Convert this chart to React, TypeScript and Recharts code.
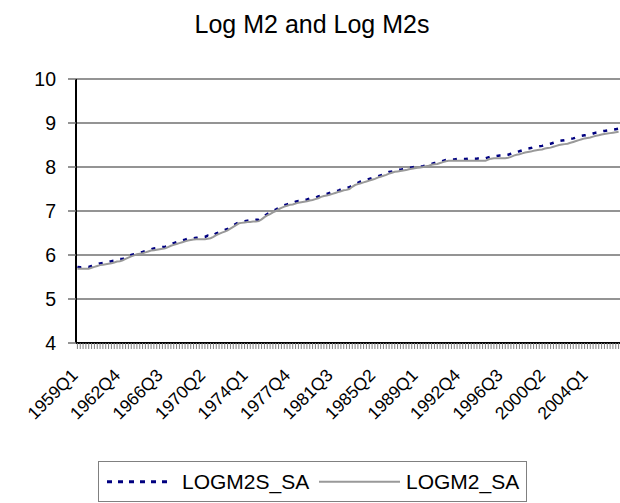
import React from 'react';
import { LineChart, Line, XAxis, YAxis, CartesianGrid } from 'recharts';

const chartTitle = 'Log M2 and Log M2s';
const startYear = 1959;
const quarterCount = 192;
const categories: string[] = [];
for (let i = 0; i < quarterCount; i++) {
  categories.push(`${startYear + Math.floor(i / 4)}Q${(i % 4) + 1}`);
}
const tickLabels = ['1959Q1', '1962Q4', '1966Q3', '1970Q2', '1974Q1', '1977Q4', '1981Q3', '1985Q2', '1989Q1', '1992Q4', '1996Q3', '2000Q2', '2004Q1'];
const yTicks = [4, 5, 6, 7, 8, 9, 10];
const seriesNames = ['LOGM2S_SA', 'LOGM2_SA'];

const logm2sSa = [
  5.73, 5.72, 5.73, 5.74, 5.73, 5.75, 5.77, 5.79, 5.81, 5.82, 5.83, 5.84,
  5.86, 5.87, 5.89, 5.91, 5.91, 5.94, 5.97, 6.0, 6.02, 6.04, 6.06, 6.07,
  6.09, 6.11, 6.13, 6.15, 6.16, 6.17, 6.18, 6.19, 6.21, 6.24, 6.27, 6.29,
  6.31, 6.33, 6.35, 6.37, 6.38, 6.38, 6.39, 6.4, 6.4, 6.41, 6.44, 6.42,
  6.45, 6.49, 6.51, 6.55, 6.57, 6.59, 6.63, 6.67, 6.71, 6.75, 6.76, 6.77,
  6.78, 6.79, 6.79, 6.8, 6.8, 6.85, 6.89, 6.93, 6.96, 7.01, 7.03, 7.07,
  7.1, 7.13, 7.15, 7.17, 7.18, 7.21, 7.23, 7.23, 7.25, 7.26, 7.28, 7.29,
  7.3, 7.33, 7.35, 7.38, 7.39, 7.41, 7.43, 7.44, 7.46, 7.49, 7.5, 7.52,
  7.54, 7.58, 7.62, 7.64, 7.67, 7.69, 7.71, 7.73, 7.75, 7.77, 7.79, 7.81,
  7.83, 7.86, 7.89, 7.9, 7.92, 7.93, 7.94, 7.95, 7.96, 7.98, 7.99, 8.0,
  8.0, 8.01, 8.02, 8.04, 8.05, 8.07, 8.09, 8.1, 8.12, 8.14, 8.16, 8.17,
  8.17, 8.17, 8.18, 8.18, 8.18, 8.18, 8.19, 8.19, 8.19, 8.19, 8.2, 8.2,
  8.2, 8.22, 8.24, 8.24, 8.25, 8.26, 8.26, 8.27, 8.28, 8.3, 8.32, 8.35,
  8.36, 8.38, 8.4, 8.42, 8.43, 8.45, 8.46, 8.47, 8.48, 8.5, 8.52, 8.53,
  8.55, 8.57, 8.59, 8.6, 8.61, 8.62, 8.64, 8.65, 8.67, 8.69, 8.71, 8.72,
  8.73, 8.74, 8.76, 8.78, 8.79, 8.81, 8.82, 8.83, 8.84, 8.85, 8.86, 8.87,
];

const logm2Sa = [
  5.69, 5.69, 5.69, 5.69, 5.69, 5.71, 5.73, 5.75, 5.77, 5.78, 5.79, 5.8,
  5.81, 5.83, 5.85, 5.86, 5.88, 5.91, 5.94, 5.97, 5.99, 6.02, 6.03, 6.04,
  6.06, 6.08, 6.1, 6.11, 6.12, 6.13, 6.14, 6.15, 6.18, 6.21, 6.23, 6.25,
  6.27, 6.29, 6.31, 6.33, 6.34, 6.35, 6.36, 6.36, 6.36, 6.36, 6.37, 6.38,
  6.41, 6.45, 6.48, 6.51, 6.53, 6.56, 6.6, 6.64, 6.68, 6.72, 6.73, 6.74,
  6.75, 6.75, 6.76, 6.76, 6.77, 6.81, 6.86, 6.9, 6.93, 6.97, 7.0, 7.04,
  7.07, 7.1, 7.12, 7.14, 7.15, 7.17, 7.19, 7.2, 7.21, 7.22, 7.24, 7.25,
  7.27, 7.29, 7.32, 7.34, 7.35, 7.37, 7.39, 7.41, 7.43, 7.45, 7.47, 7.48,
  7.5, 7.55, 7.59, 7.61, 7.63, 7.65, 7.67, 7.69, 7.71, 7.73, 7.76, 7.78,
  7.8, 7.82, 7.85, 7.87, 7.89, 7.9, 7.91, 7.92, 7.93, 7.95, 7.96, 7.97,
  7.98, 7.99, 8.0, 8.02, 8.03, 8.05, 8.06, 8.07, 8.09, 8.11, 8.13, 8.14,
  8.14, 8.14, 8.14, 8.14, 8.14, 8.14, 8.14, 8.14, 8.14, 8.14, 8.14, 8.14,
  8.14, 8.17, 8.19, 8.2, 8.2, 8.2, 8.2, 8.2, 8.21, 8.23, 8.26, 8.28,
  8.29, 8.31, 8.33, 8.34, 8.35, 8.37, 8.38, 8.39, 8.4, 8.42, 8.43, 8.44,
  8.46, 8.48, 8.5, 8.51, 8.52, 8.53, 8.55, 8.57, 8.59, 8.61, 8.63, 8.65,
  8.66, 8.67, 8.69, 8.71, 8.72, 8.74, 8.75, 8.76, 8.77, 8.78, 8.79, 8.8,
];

const data = categories.map((q, i) => ({ q, [seriesNames[0]]: logm2sSa[i], [seriesNames[1]]: logm2Sa[i] }));

const FONT = '"Liberation Sans", Arial, Helvetica, sans-serif';

const XTick = (props: any) => {
  const { x, payload } = props;
  if (!tickLabels.includes(payload.value)) return <g />;
  return (
    <g transform={`translate(${x - 3},372)`}>
      <text transform="rotate(-45)" textAnchor="end" dy="0.36em" fontSize={17.5} fill="#000" fontFamily={FONT}>
        {payload.value}
      </text>
    </g>
  );
};

export default function App() {
  return (
    <div style={{ position: 'absolute', left: 0, top: 0, width: 620, height: 503, background: '#fff', fontFamily: FONT, overflow: 'hidden' }}>
      <div style={{ position: 'absolute', left: 0, top: 12, width: 624, textAlign: 'center', fontSize: 25, lineHeight: '25px', color: '#000' }}>
        {chartTitle}
      </div>
      <LineChart width={620} height={503} data={data} margin={{ top: 79, right: 0, bottom: 0, left: 0 }}>
        <CartesianGrid vertical={false} stroke="#707070" strokeWidth={1.5} />
        <XAxis
          dataKey="q"
          interval={0}
          tick={<XTick />}
          tickSize={6}
          height={160}
          axisLine={{ stroke: '#000', strokeWidth: 2 }}
          tickLine={{ stroke: '#808080', strokeWidth: 1 }}
          padding={{ left: 1.4, right: 1.4 }}
        />
        <YAxis
          domain={[4, 10]}
          ticks={yTicks}
          width={76}
          tickSize={8}
          tickMargin={12}
          axisLine={{ stroke: '#000', strokeWidth: 2 }}
          tickLine={{ stroke: '#707070', strokeWidth: 1.5 }}
          tick={{ fill: '#000', fontSize: 19.5, fontFamily: FONT }}
        />
        <Line type="linear" dataKey={seriesNames[0]} stroke="#000080" strokeWidth={2.5} strokeDasharray="4 7" dot={false} isAnimationActive={false} />
        <Line type="linear" dataKey={seriesNames[1]} stroke="#999999" strokeWidth={2} dot={false} isAnimationActive={false} />
      </LineChart>
      <div style={{ position: 'absolute', left: 98, top: 461, width: 429, height: 41, border: '1.5px solid #808080', boxSizing: 'border-box' }} />
      <svg style={{ position: 'absolute', left: 0, top: 0 }} width={620} height={503}>
        <line x1={107} x2={172} y1={481.7} y2={481.7} stroke="#000080" strokeWidth={3} strokeDasharray="5 6" />
        <line x1={319} x2={400} y1={481.7} y2={481.7} stroke="#999999" strokeWidth={2} />
      </svg>
      <div style={{ position: 'absolute', left: 182, top: 470.5, fontSize: 21, lineHeight: '21px', color: '#000', whiteSpace: 'nowrap' }}>{seriesNames[0]}</div>
      <div style={{ position: 'absolute', left: 406, top: 470.5, fontSize: 21, lineHeight: '21px', color: '#000', whiteSpace: 'nowrap' }}>{seriesNames[1]}</div>
    </div>
  );
}
